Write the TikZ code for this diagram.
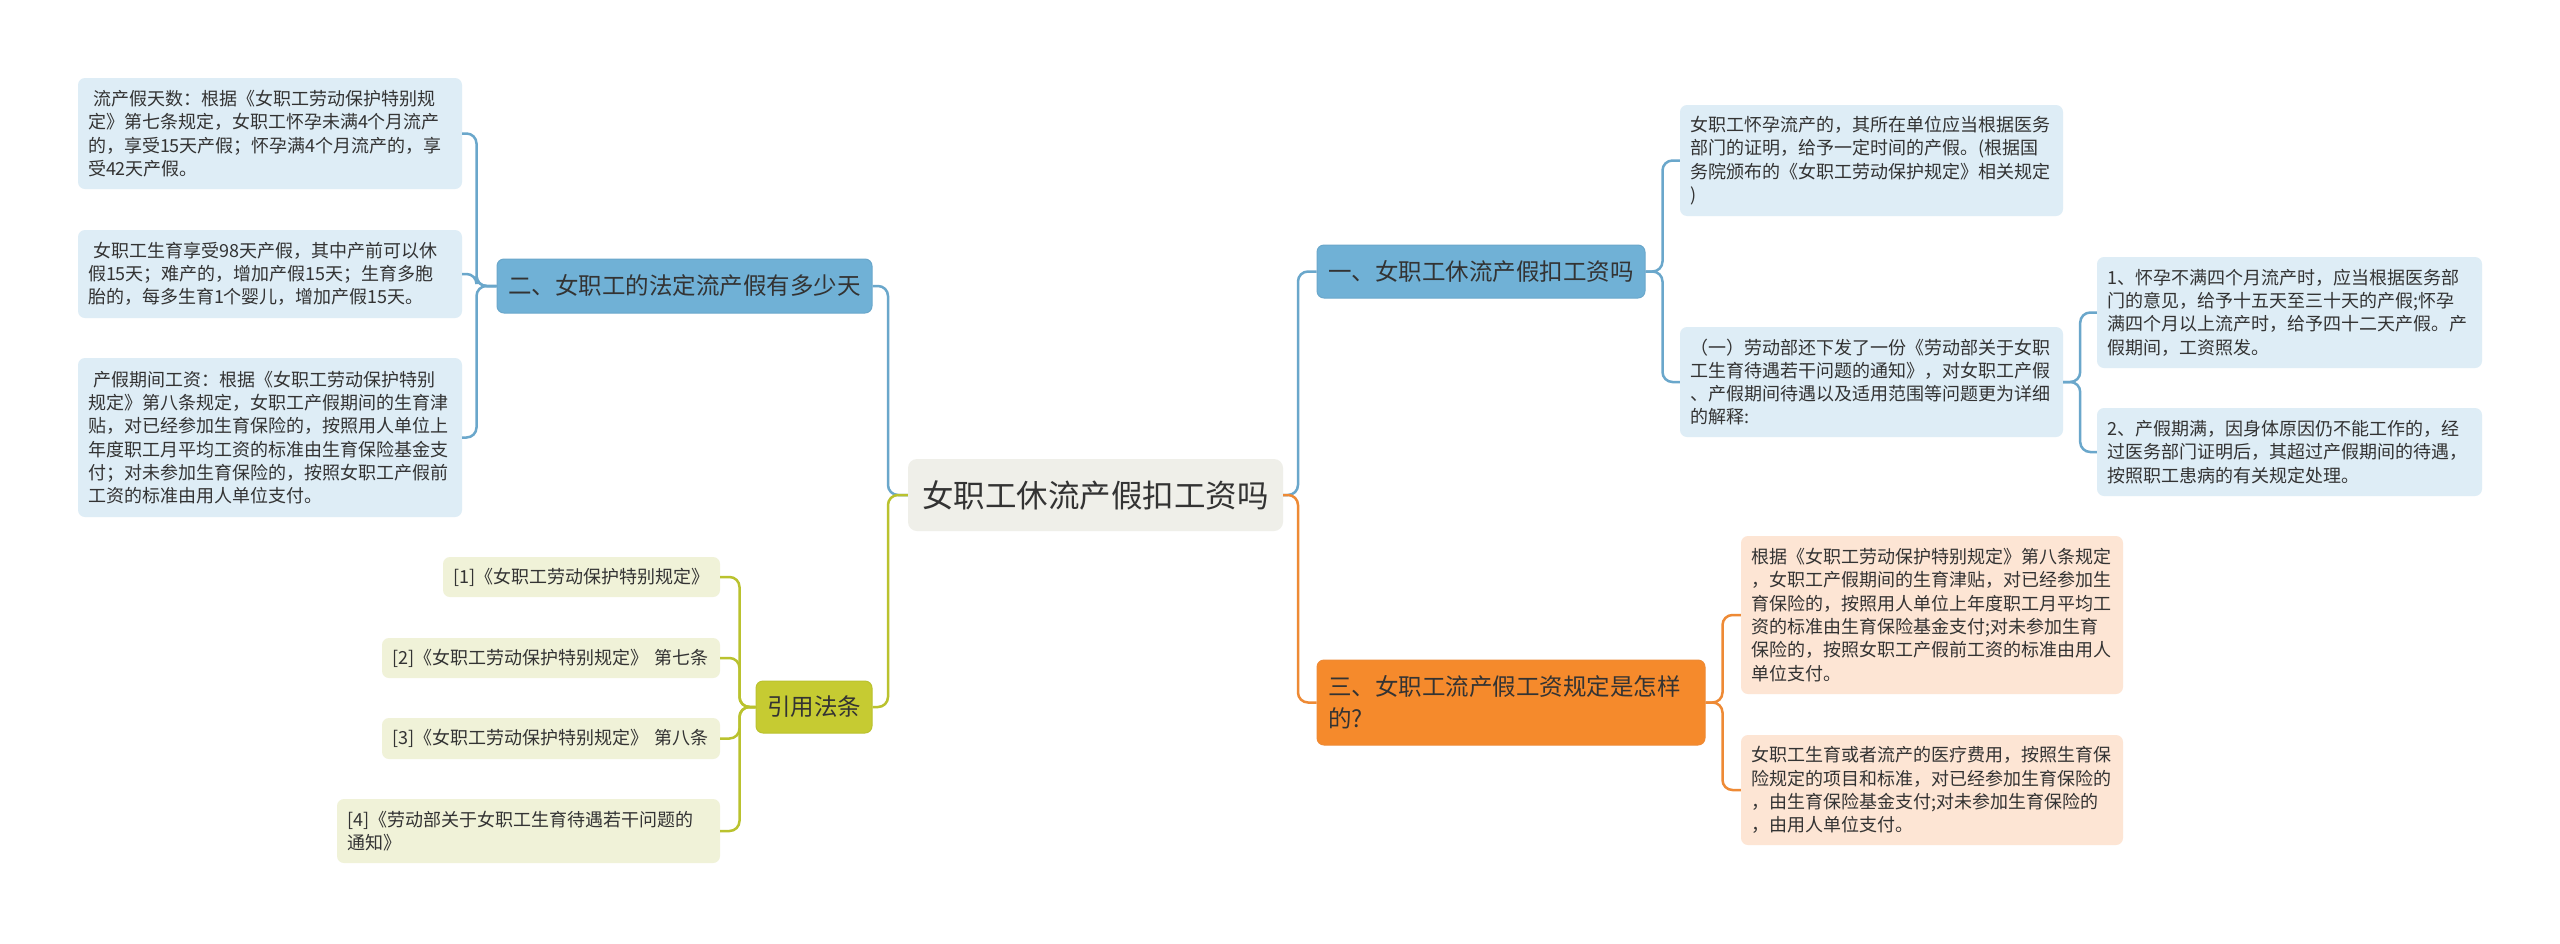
\documentclass[tikz,border=0pt]{standalone}
\usepackage{fontspec}
\setmainfont{Noto Sans CJK SC}
\definecolor{textc}{HTML}{333333}
\definecolor{leafblue}{HTML}{DEEDF6}
\definecolor{leaforange}{HTML}{FDE5D4}
\definecolor{refgreen}{HTML}{F0F2D8}
\definecolor{centerc}{HTML}{EFEFE9}
\definecolor{branchblue}{HTML}{70B1D6}
\definecolor{bluel}{HTML}{6AA7CB}
\definecolor{branchorange}{HTML}{F58A2C}
\definecolor{orangel}{HTML}{EE8A35}
\definecolor{branchgreen}{HTML}{C6CB32}
\definecolor{greenl}{HTML}{BAC22E}
\begin{document}
\begin{tikzpicture}[x=1pt,y=-1pt,
  box/.style={rounded corners=7pt, inner xsep=10pt, inner ysep=0pt, align=left, text=textc, font=\fontsize{18}{23.3}\selectfont},
  leafb/.style={box, fill=leafblue},
  leafo/.style={box, fill=leaforange},
  leafg/.style={box, fill=refgreen},
  branch/.style={rounded corners=7pt, inner sep=0pt, text=textc, font=\fontsize{23.5}{32}\selectfont},
  centerbox/.style={rounded corners=9pt, inner sep=0pt, text=textc, fill=centerc, font=\fontsize{31.5}{38}\selectfont},
  conn/.style={line width=2.5pt, rounded corners=10pt}]
\useasboundingbox (0,0) rectangle (2560,943);
\fill[white] (0,0) rectangle (2560,943);

% central
\node[centerbox, minimum width=375pt, minimum height=72pt] (C) at (1095.5,495) {女职工休流产假扣工资吗};

% main branches
\node[branch, fill=branchblue, draw=bluel, line width=1pt, minimum width=375pt, minimum height=54pt] (N2) at (684.5,286) {二、女职工的法定流产假有多少天};
\node[branch, fill=branchgreen, draw=greenl, line width=1pt, minimum width=116pt, minimum height=52pt] (Y) at (814,707) {引用法条};
\node[branch, fill=branchblue, draw=bluel, line width=1pt, minimum width=328pt, minimum height=53pt] (N1) at (1481,271.5) {一、女职工休流产假扣工资吗};
\node[branch, fill=branchorange, draw=orangel, line width=1pt, minimum width=388pt, minimum height=85pt, text width=366pt, align=left, inner xsep=11pt] (N3) at (1511,702.5) {三、女职工流产假工资规定是怎样\\的?};

% left leaves
\node[leafb, minimum width=384pt, minimum height=111pt, text width=364pt] (L1) at (270,133.5) {\hspace*{0.28em}流产假天数：根据《女职工劳动保护特别规\\定》第七条规定，女职工怀孕未满4个月流产\\的，享受15天产假；怀孕满4个月流产的，享\\受42天产假。};
\node[leafb, minimum width=384pt, minimum height=88pt, text width=364pt] (L2) at (270,274) {\hspace*{0.28em}女职工生育享受98天产假，其中产前可以休\\假15天；难产的，增加产假15天；生育多胞\\胎的，每多生育1个婴儿，增加产假15天。};
\node[leafb, minimum width=384pt, minimum height=159pt, text width=364pt] (L3) at (270,437.5) {\hspace*{0.28em}产假期间工资：根据《女职工劳动保护特别\\规定》第八条规定，女职工产假期间的生育津\\贴，对已经参加生育保险的，按照用人单位上\\年度职工月平均工资的标准由生育保险基金支\\付；对未参加生育保险的，按照女职工产假前\\工资的标准由用人单位支付。};

% references
\node[leafg, minimum width=277pt, minimum height=40pt, text width=257pt] (R1) at (581.5,577) {[1]《女职工劳动保护特别规定》};
\node[leafg, minimum width=338pt, minimum height=40pt, text width=318pt] (R2) at (551,658) {[2]《女职工劳动保护特别规定》 第七条};
\node[leafg, minimum width=338pt, minimum height=41pt, text width=318pt] (R3) at (551,738.5) {[3]《女职工劳动保护特别规定》 第八条};
\node[leafg, minimum width=383pt, minimum height=64pt, text width=363pt] (R4) at (528.5,831) {[4]《劳动部关于女职工生育待遇若干问题的\\通知》};

% right blue leaves
\node[leafb, minimum width=383pt, minimum height=111pt, text width=363pt] (B1) at (1871.5,160.5) {女职工怀孕流产的，其所在单位应当根据医务\\部门的证明，给予一定时间的产假。(根据国\\务院颁布的《女职工劳动保护规定》相关规定\\)};
\node[leafb, minimum width=383pt, minimum height=110pt, text width=363pt] (B2) at (1871.5,382) {（一）劳动部还下发了一份《劳动部关于女职\\工生育待遇若干问题的通知》，对女职工产假\\、产假期间待遇以及适用范围等问题更为详细\\的解释:};
\node[leafb, minimum width=385pt, minimum height=111pt, text width=365pt] (B2a) at (2289.5,312.5) {1、怀孕不满四个月流产时，应当根据医务部\\门的意见，给予十五天至三十天的产假;怀孕\\满四个月以上流产时，给予四十二天产假。产\\假期间，工资照发。};
\node[leafb, minimum width=385pt, minimum height=88pt, text width=365pt] (B2b) at (2289.5,452) {2、产假期满，因身体原因仍不能工作的，经\\过医务部门证明后，其超过产假期间的待遇，\\按照职工患病的有关规定处理。};

% orange leaves
\node[leafo, minimum width=382pt, minimum height=158pt, text width=362pt] (O1) at (1932,615) {根据《女职工劳动保护特别规定》第八条规定\\，女职工产假期间的生育津贴，对已经参加生\\育保险的，按照用人单位上年度职工月平均工\\资的标准由生育保险基金支付;对未参加生育\\保险的，按照女职工产假前工资的标准由用人\\单位支付。};
\node[leafo, minimum width=382pt, minimum height=110pt, text width=362pt] (O2) at (1932,790) {女职工生育或者流产的医疗费用，按照生育保\\险规定的项目和标准，对已经参加生育保险的\\，由生育保险基金支付;对未参加生育保险的\\，由用人单位支付。};

% connectors
\draw[conn, bluel] (C.west) -- (888,495) |- (N2.east);
\draw[conn, greenl] (C.west) -- (888,495) |- (Y.east);
\draw[conn, bluel] (C.east) -- (1298,495) |- (N1.west);
\draw[conn, orangel] (C.east) -- (1298,495) |- (N3.west);

\foreach \t in {L1,L2,L3} \draw[conn, bluel] (N2.west) -- ++(-20,0) |- (\t.east);
\foreach \t in {R1,R2,R3,R4} \draw[conn, greenl] (Y.west) -- ++(-16,0) |- (\t.east);
\foreach \t in {B1,B2} \draw[conn, bluel] (N1.east) -- ++(17,0) |- (\t.west);
\foreach \t in {B2a,B2b} \draw[conn, bluel] (B2.east) -- ++(17,0) |- (\t.west);
\foreach \t in {O1,O2} \draw[conn, orangel] (N3.east) -- ++(17,0) |- (\t.west);
\end{tikzpicture}
\end{document}
